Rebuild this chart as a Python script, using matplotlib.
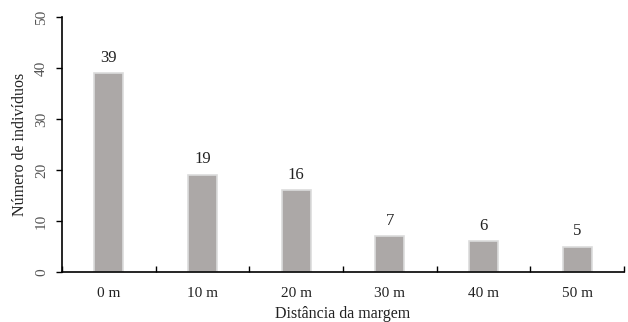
import matplotlib
matplotlib.use("Agg")
import matplotlib.pyplot as plt
import numpy as np

categories = ["0 m", "10 m", "20 m", "30 m", "40 m", "50 m"]
values = [39, 19, 16, 7, 6, 5]
yticks = [0, 10, 20, 30, 40, 50]

plt.rcParams['font.family'] = ['Liberation Serif', 'DejaVu Serif']

fig = plt.figure(figsize=(6.28, 3.22), dpi=100)
ax = fig.add_axes([0.0987, 0.1553, 0.8949, 0.7917])

x = np.arange(len(categories))
bars = ax.bar(x, values, width=0.31, color='#aca8a7', edgecolor='#dcdcdc', linewidth=1.2)
for xi, v in zip(x, values):
    ax.text(xi, v + 1.5, str(v), ha='center', va='bottom', fontsize=12, color='#222222')

ax.set_xlim(-0.5, len(categories) - 0.5)
ax.set_ylim(0, 50)
ax.set_yticks(yticks)
ax.set_yticklabels([str(t) for t in yticks], rotation=90, va='center', fontsize=11, color='#555555')
ax.set_xticks(x)
ax.set_xticklabels(categories, fontsize=11, color='#222222')
ax.set_xticks(np.arange(len(categories) + 1) - 0.5, minor=True)
ax.tick_params(axis='x', which='major', length=0, pad=11)
ax.tick_params(axis='x', which='minor', direction='in', length=4, width=1)
ax.tick_params(axis='y', which='major', direction='out', length=4, width=1, pad=6)

for s in ['top', 'right']:
    ax.spines[s].set_visible(False)
for s in ['left', 'bottom']:
    ax.spines[s].set_linewidth(1.2)
    ax.spines[s].set_color('#000000')

ax.set_xlabel("Distância da margem", fontsize=11.5, labelpad=4, color='#222222')
ax.set_ylabel("Número de indivíduos", fontsize=11.5, labelpad=5, color='#222222')

fig.savefig("out.png", dpi=100)
